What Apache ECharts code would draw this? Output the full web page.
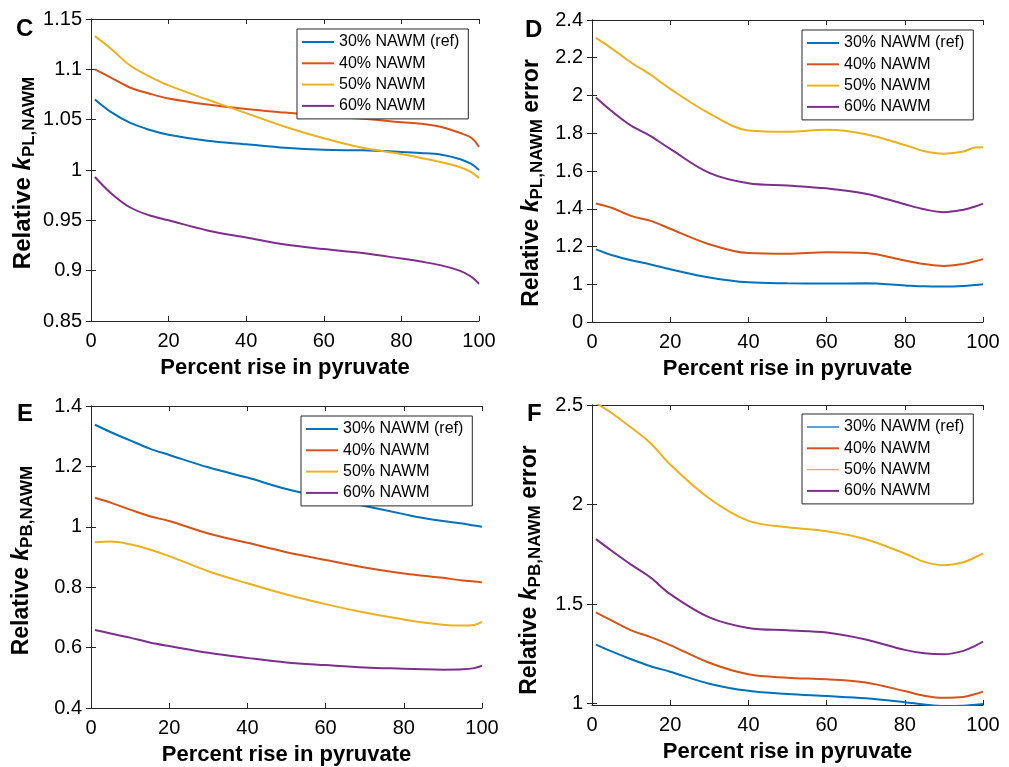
<!DOCTYPE html>
<html>
<head>
<meta charset="utf-8">
<script src="https://cdn.jsdelivr.net/npm/echarts@6/dist/echarts.min.js"></script>
<style>
  html, body { margin: 0; padding: 0; background: #fff; }
  #chart { width: 1009px; height: 767px; }
</style>
</head>
<body>
<div id="chart"></div>
<script>
// data
var pctRise = [1, 5, 10, 15, 20, 30, 40, 50, 60, 70, 80, 85, 90, 95, 98, 100];
var seriesNames = ["30% NAWM (ref)", "40% NAWM", "50% NAWM", "60% NAWM"];
var colors = ["#0072BD", "#D95319", "#EDB120", "#7E2F8E"];

// C: relative kPL,NAWM
var kplRef = [1.070, 1.058, 1.047, 1.040, 1.035, 1.029, 1.0255, 1.022, 1.020, 1.0195, 1.018, 1.017, 1.0155, 1.011, 1.006, 1.000];
var kpl40  = [1.100, 1.092, 1.082, 1.076, 1.071, 1.065, 1.0605, 1.057, 1.0535, 1.051, 1.0475, 1.046, 1.043, 1.037, 1.032, 1.023];
var kpl50  = [1.133, 1.121, 1.104, 1.093, 1.084, 1.070, 1.0565, 1.043, 1.0315, 1.022, 1.016, 1.012, 1.008, 1.003, 0.998, 0.992];
var kpl60  = [0.993, 0.9775, 0.963, 0.955, 0.950, 0.940, 0.933, 0.926, 0.9215, 0.9175, 0.912, 0.909, 0.9055, 0.900, 0.894, 0.887];

// D: relative kPL,NAWM error
var kplErrRef = [1.185, 1.155, 1.127, 1.105, 1.080, 1.036, 1.010, 1.005, 1.004, 1.005, 0.994, 0.989, 0.988, 0.991, 0.996, 1.000];
var kplErr40  = [1.428, 1.405, 1.362, 1.336, 1.294, 1.212, 1.165, 1.161, 1.169, 1.165, 1.126, 1.107, 1.097, 1.108, 1.122, 1.133];
var kplErr50  = [2.305, 2.250, 2.175, 2.110, 2.035, 1.905, 1.815, 1.808, 1.818, 1.795, 1.738, 1.705, 1.692, 1.703, 1.725, 1.726];
var kplErr60  = [1.990, 1.918, 1.840, 1.785, 1.717, 1.590, 1.535, 1.523, 1.508, 1.480, 1.424, 1.397, 1.382, 1.395, 1.412, 1.427];

// E: relative kPB,NAWM
var kpbRef = [1.338, 1.314, 1.286, 1.259, 1.238, 1.197, 1.163, 1.125, 1.096, 1.069, 1.042, 1.029, 1.019, 1.011, 1.004, 1.000];
var kpb40  = [1.096, 1.080, 1.057, 1.035, 1.019, 0.978, 0.947, 0.916, 0.890, 0.865, 0.845, 0.838, 0.831, 0.822, 0.819, 0.816];
var kpb50  = [0.949, 0.951, 0.942, 0.925, 0.903, 0.853, 0.813, 0.776, 0.744, 0.716, 0.693, 0.683, 0.676, 0.673, 0.675, 0.685];
var kpb60  = [0.658, 0.647, 0.633, 0.617, 0.605, 0.583, 0.566, 0.551, 0.542, 0.534, 0.530, 0.528, 0.527, 0.528, 0.532, 0.540];

// F: relative kPB,NAWM error
var kpbErrRef = [1.296, 1.262, 1.223, 1.188, 1.160, 1.100, 1.064, 1.048, 1.038, 1.027, 1.007, 0.995, 0.987, 0.989, 0.994, 0.998];
var kpbErr40  = [1.458, 1.418, 1.368, 1.334, 1.294, 1.205, 1.147, 1.130, 1.122, 1.106, 1.063, 1.040, 1.029, 1.033, 1.048, 1.060];
var kpbErr50  = [2.510, 2.460, 2.387, 2.308, 2.201, 2.030, 1.918, 1.886, 1.866, 1.826, 1.754, 1.712, 1.695, 1.710, 1.735, 1.753];
var kpbErr60  = [1.826, 1.768, 1.698, 1.633, 1.550, 1.433, 1.380, 1.368, 1.357, 1.322, 1.270, 1.253, 1.248, 1.265, 1.290, 1.312];

var xTicks = [0, 20, 40, 60, 80, 100];
var yTicksF = [1, 1.5, 2, 2.5];

var FONT = "'Liberation Sans', Arial, sans-serif";
var AXIS_COLOR = "#262626";

var panels = [
  { letter: "C", pos: [16, 17], grid: { left: 91, top: 19, width: 388, height: 302 }, min: 0.85, max: 1.15, interval: 0.05,
    title: "{r|Relative }{k|k}{s|PL,NAWM}", font: 24, shift: 6, gap: 53, legend: { left: 297, top: 29 },
    data: [kplRef, kpl40, kpl50, kpl60] },
  { letter: "D", pos: [525, 18], grid: { left: 592, top: 20, width: 391, height: 302 }, min: 0.8, max: 2.4, interval: 0.2,
    title: "{r|Relative }{k|k}{s|PL,NAWM}{r| error}", font: 23, shift: 24, gap: 46, legend: { left: 802, top: 30 },
    data: [kplErrRef, kplErr40, kplErr50, kplErr60] },
  { letter: "E", pos: [17, 402], grid: { left: 91, top: 406, width: 391, height: 302 }, min: 0.4, max: 1.4, interval: 0.2,
    title: "{r|Relative }{k|k}{s|PB,NAWM}", font: 23, shift: 7, gap: 55, legend: { left: 301, top: 416 },
    data: [kpbRef, kpb40, kpb50, kpb60] },
  { letter: "F", pos: [527, 402], grid: { left: 592, top: 405, width: 391, height: 300 }, min: 0.993, max: 2.5, custom: yTicksF,
    title: "{r|Relative }{k|k}{s|PB,NAWM}{r| error}", font: 23, shift: 30, gap: 48, legend: { left: 802, top: 414 },
    data: [kpbErrRef, kpbErr40, kpbErr50, kpbErr60], thinLegend: true }
];

function fmtY(v) {
  return String(Math.round(v * 100) / 100);
}

var chart = echarts.init(document.getElementById("chart"));

var option = {
  animation: false,
  backgroundColor: "#fff",
  textStyle: { fontFamily: FONT },
  title: [], grid: [], xAxis: [], yAxis: [], legend: [], series: []
};

panels.forEach(function (p, pi) {
  option.title.push({
    text: p.letter, left: p.pos[0], top: p.pos[1], padding: 0,
    textStyle: { fontSize: 24, fontWeight: "bold", color: "#000", fontFamily: FONT }
  });
  option.grid.push({ left: p.grid.left, top: p.grid.top, width: p.grid.width, height: p.grid.height, outerBoundsMode: "none" });

  var lineStyle = { color: AXIS_COLOR, width: 1 };
  // bottom x axis with labels, top x axis ticks only (box look)
  option.xAxis.push({
    type: "value", gridIndex: pi, min: 0, max: 100, interval: 20, position: "bottom",
    name: "Percent rise in pyruvate", nameLocation: "middle", nameGap: 36,
    nameTextStyle: { fontSize: 22, fontWeight: "bold", color: "#000", fontFamily: FONT },
    axisLine: { show: true, lineStyle: lineStyle },
    axisTick: { inside: true, length: 5, lineStyle: lineStyle },
    axisLabel: { fontSize: 20, color: "#000", margin: 10, fontFamily: FONT, customValues: xTicks },
    splitLine: { show: false }
  });
  option.xAxis.push({
    type: "value", gridIndex: pi, min: 0, max: 100, interval: 20, position: "top",
    axisLine: { show: true, lineStyle: lineStyle },
    axisTick: { inside: true, length: 5, lineStyle: lineStyle },
    axisLabel: { show: false }, splitLine: { show: false }
  });

  var yLeft = {
    type: "value", gridIndex: pi, min: p.min, max: p.max, position: "left",
    name: p.title + "{p| }", nameLocation: "middle", nameGap: p.gap,
    nameTextStyle: {
      color: "#000", fontFamily: FONT,
      rich: {
        r: { fontSize: p.font, fontWeight: "bold", color: "#000", fontFamily: FONT, verticalAlign: "bottom", padding: [0, 0, 3, 0] },
        k: { fontSize: p.font, fontWeight: "bold", fontStyle: "italic", color: "#000", fontFamily: FONT, verticalAlign: "bottom", padding: [0, 0, 3, 0] },
        s: { fontSize: 17, fontWeight: "bold", color: "#000", fontFamily: FONT, verticalAlign: "bottom" },
        p: { fontSize: 1, width: p.shift }
      }
    },
    axisLine: { show: true, lineStyle: lineStyle },
    axisTick: { inside: true, length: 5, lineStyle: lineStyle },
    axisLabel: {
      fontSize: 20, color: "#000", margin: 9, fontFamily: FONT,
      formatter: function (v) {
        // panel D labels its bottom tick as "0"
        if (p.letter === "D" && Math.abs(v - 0.8) < 1e-6) return "0";
        return fmtY(v);
      }
    },
    splitLine: { show: false }
  };
  var yRight = {
    type: "value", gridIndex: pi, min: p.min, max: p.max, position: "right",
    axisLine: { show: true, lineStyle: lineStyle },
    axisTick: { inside: true, length: 5, lineStyle: lineStyle },
    axisLabel: { show: false }, splitLine: { show: false }
  };
  if (p.custom) {
    yLeft.axisTick.customValues = p.custom;
    yLeft.axisLabel.customValues = p.custom;
    yRight.axisTick = { inside: true, length: 5, lineStyle: lineStyle, customValues: p.custom };
  } else {
    yLeft.interval = p.interval;
    yRight.interval = p.interval;
  }
  option.yAxis.push(yLeft, yRight);

  var legendData = seriesNames.map(function (n, i) {
    var d = { name: n };
    if (p.thinLegend && (i === 0 || i === 2)) d.icon = "path://M0,0h32v1.3h-32z";
    return d;
  });
  option.legend.push({
    left: p.legend.left, top: p.legend.top, orient: "vertical",
    data: legendData, selectedMode: false, icon: "rect",
    itemWidth: 32, itemHeight: 2, itemGap: 5.3,
    padding: [5, 9, 5, 5],
    backgroundColor: "#fff", borderColor: AXIS_COLOR, borderWidth: 1,
    textStyle: { fontSize: 16, color: "#000", fontFamily: FONT, lineHeight: 14 }
  });

  p.data.forEach(function (vals, si) {
    option.series.push({
      name: seriesNames[si], type: "line",
      xAxisIndex: pi * 2, yAxisIndex: pi * 2,
      smooth: 0.35, showSymbol: false, symbol: "none",
      lineStyle: { color: colors[si], width: 2 },
      itemStyle: { color: colors[si] },
      data: pctRise.map(function (x, i) { return [x, vals[i]]; })
    });
  });
});

chart.setOption(option);
</script>
</body>
</html>
